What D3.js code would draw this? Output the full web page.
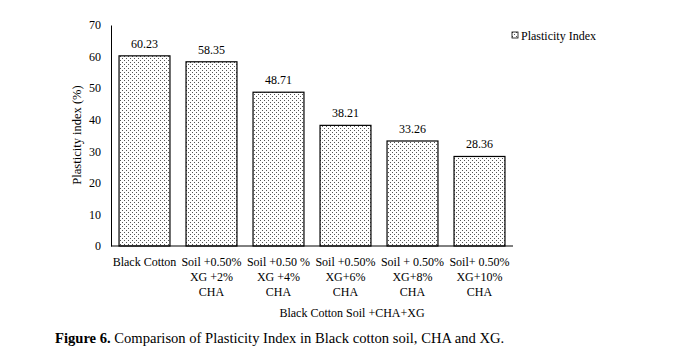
<!DOCTYPE html>
<html>
<head>
<meta charset="utf-8">
<style>
  body { margin: 0; background: #fff; }
  text { font-family: "Liberation Serif", "Times New Roman", serif; fill: #000; }
</style>
</head>
<body>
<svg id="chart" width="677" height="354"></svg>
<script src="https://d3js.org/d3.v7.min.js"></script>
<script>
var categories = [
  ["Black Cotton"],
  ["Soil +0.50%", "XG +2%", "CHA"],
  ["Soil +0.50 %", "XG +4%", "CHA"],
  ["Soil +0.50%", "XG+6%", "CHA"],
  ["Soil + 0.50%", "XG+8%", "CHA"],
  ["Soil+ 0.50%", "XG+10%", "CHA"]
];
var values = [60.23, 58.35, 48.71, 38.21, 33.26, 28.36];
var yTicks = [0, 10, 20, 30, 40, 50, 60, 70];

var svg = d3.select("#chart");
var plotL = 111, plotR = 513, plotT = 25, plotB = 246;

// dotted fill
var pat = svg.append("defs").append("pattern")
  .attr("id", "dots").attr("patternUnits", "userSpaceOnUse")
  .attr("width", 4).attr("height", 4);
pat.append("rect").attr("width", 4).attr("height", 4).attr("fill", "#fff");
pat.append("rect").attr("x", 0).attr("y", 0).attr("width", 1).attr("height", 1).attr("fill", "#555");
pat.append("rect").attr("x", 2).attr("y", 2).attr("width", 1).attr("height", 1).attr("fill", "#555");

var x = d3.scaleBand().domain(d3.range(categories.length))
  .range([plotL, plotR]).paddingInner(0.24).paddingOuter(0.12);
var y = d3.scaleLinear().domain([0, 70]).range([plotB, plotT]);

// y axis
var ya = svg.append("g").attr("transform", "translate(" + plotL + ",0)")
  .call(d3.axisLeft(y).tickValues(yTicks).tickSize(0).tickPadding(10));
ya.select(".domain").attr("stroke", "#000");
ya.selectAll("text").style("font-size", "12px").style("font-family", "Liberation Serif");

// bars
svg.selectAll(".bar").data(values).enter().append("rect")
  .attr("x", function (d, i) { return x(i); })
  .attr("y", function (d) { return y(d); })
  .attr("width", x.bandwidth())
  .attr("height", function (d) { return plotB - y(d); })
  .attr("fill", "url(#dots)").attr("stroke", "#000").attr("stroke-width", 1.2);

// value labels
svg.selectAll(".val").data(values).enter().append("text")
  .attr("x", function (d, i) { return x(i) + x.bandwidth() / 2; })
  .attr("y", function (d) { return y(d) - 8; })
  .attr("text-anchor", "middle").style("font-size", "12px")
  .text(function (d) { return d.toFixed(2); });

// x axis line
svg.append("line").attr("x1", plotL).attr("x2", plotR)
  .attr("y1", plotB).attr("y2", plotB).attr("stroke", "#000");

// category labels
var cl = svg.selectAll(".cat").data(categories).enter().append("text")
  .attr("text-anchor", "middle").style("font-size", "12px");
cl.selectAll("tspan").data(function (d, i) { return d.map(function (s) { return [s, i]; }); })
  .enter().append("tspan")
  .attr("x", function (d) { return x(d[1]) + x.bandwidth() / 2; })
  .attr("y", function (d, j) { return 266 + j * 15; })
  .text(function (d) { return d[0]; });

// axis titles
svg.append("text").attr("x", 352).attr("y", 317).attr("text-anchor", "middle")
  .style("font-size", "12px").text("Black Cotton Soil +CHA+XG");
svg.append("text").attr("transform", "translate(81,135) rotate(-90)")
  .attr("text-anchor", "middle").style("font-size", "12.5px").text("Plasticity index (%)");

// legend
svg.append("rect").attr("x", 512).attr("y", 32).attr("width", 6).attr("height", 6)
  .attr("fill", "url(#dots)").attr("stroke", "#000").attr("stroke-width", 0.8);
svg.append("text").attr("x", 521).attr("y", 40).style("font-size", "12px").text("Plasticity Index");

// caption
var cap = svg.append("text").attr("x", 55).attr("y", 343).style("font-size", "14.6px");
cap.append("tspan").style("font-weight", "bold").text("Figure 6.");
cap.append("tspan").text(" Comparison of Plasticity Index in Black cotton soil, CHA and XG.");
</script>
</body>
</html>
